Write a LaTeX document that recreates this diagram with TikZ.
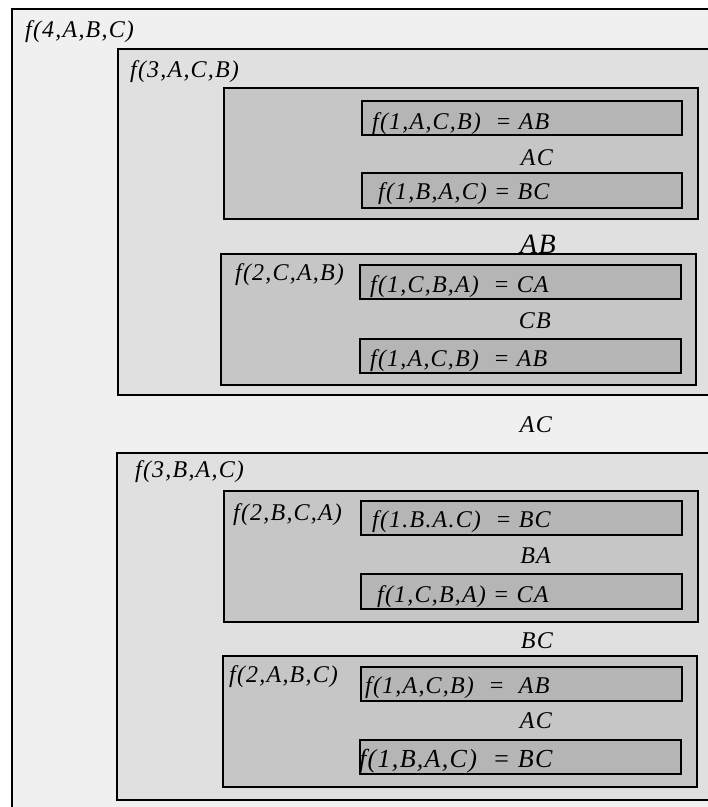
\documentclass[tikz,border=0pt]{standalone}
\usepackage{fontspec}
\setmainfont{Liberation Serif}
\newfontfamily\labfont{Liberation Serif}[LetterSpace=5]
\definecolor{cfour}{gray}{0.94}
\definecolor{cthree}{gray}{0.878}
\definecolor{ctwo}{gray}{0.776}
\definecolor{cone}{gray}{0.71}
\tikzset{
  boxfour/.style={draw=black, line width=1.4pt, fill=cfour},
  boxthree/.style={draw=black, line width=1.4pt, fill=cthree},
  boxtwo/.style={draw=black, line width=1.4pt, fill=ctwo},
  boxone/.style={draw=black, line width=1.4pt, fill=cone},
  lab/.style={inner sep=0pt, anchor=base west, font=\labfont\itshape\fontsize{24}{28}\selectfont},
  labbig/.style={inner sep=0pt, anchor=base west, font=\labfont\itshape\fontsize{26}{30}\selectfont},
  mid/.style={inner sep=0pt, anchor=base east, font=\labfont\itshape\fontsize{24}{28}\selectfont},
  midbig/.style={inner sep=0pt, anchor=base east, font=\labfont\itshape\fontsize{28}{32}\selectfont}
}
\begin{document}
\begin{tikzpicture}[x=1pt, y=-1pt]
\useasboundingbox (0,0) rectangle (708,807);
\clip (0,0) rectangle (708,807);
\fill[white] (0,0) rectangle (708,807);
% level 4
\draw[boxfour] (12,9) rectangle (725,825);
\node[lab] (f4) at (25,37) {f(4,A,B,C)};
% level 3 upper
\draw[boxthree] (118,49) rectangle (725,395);
\node[lab] (f3a) at (130,77) {f(3,A,C,B)};
\draw[boxtwo] (224,88) rectangle (698,219);
\draw[boxone] (362,101) rectangle (682,135);
\node[lab] (t1) at (372,129) {f(1,A,C,B)\ \ = AB};
\node[mid] (m1) at (553,165) {AC};
\draw[boxone] (362,173) rectangle (682,208);
\node[lab] (t2) at (378,199) {f(1,B,A,C) = BC};
\node[midbig] (m2) at (556,253) {AB};
\draw[boxtwo] (221,254) rectangle (696,385);
\node[lab] (f2a) at (235,280) {f(2,C,A,B)};
\draw[boxone] (360,265) rectangle (681,299);
\node[lab] (t3) at (370,292) {f(1,C,B,A)\ \ = CA};
\node[mid] (m3) at (551,328) {CB};
\draw[boxone] (360,339) rectangle (681,373);
\node[lab] (t4) at (370,366) {f(1,A,C,B)\ \ = AB};
% between
\node[mid] (m4) at (552,432) {AC};
% level 3 lower
\draw[boxthree] (117,453) rectangle (725,800);
\node[lab] (f3b) at (135,477) {f(3,B,A,C)};
\draw[boxtwo] (224,491) rectangle (698,622);
\node[lab] (f2b) at (233,520) {f(2,B,C,A)};
\draw[boxone] (361,501) rectangle (682,535);
\node[lab] (t5) at (372,527) {f(1.B.A.C)\ \ = BC};
\node[mid] (m5) at (551,563) {BA};
\draw[boxone] (361,574) rectangle (682,609);
\node[lab] (t6) at (377,602) {f(1,C,B,A) = CA};
\node[mid] (m6) at (553,648) {BC};
\draw[boxtwo] (223,656) rectangle (697,787);
\node[lab] (f2c) at (229,682) {f(2,A,B,C)};
\draw[boxone] (361,667) rectangle (682,701);
\node[lab] (t7) at (365,693) {f(1,A,C,B)\ \ =\ \ AB};
\node[mid] (m7) at (552,728) {AC};
\draw[boxone] (360,740) rectangle (681,774);
\node[labbig] (t8) at (359,767) {f(1,B,A,C)\ \ = BC};
\end{tikzpicture}
\end{document}
